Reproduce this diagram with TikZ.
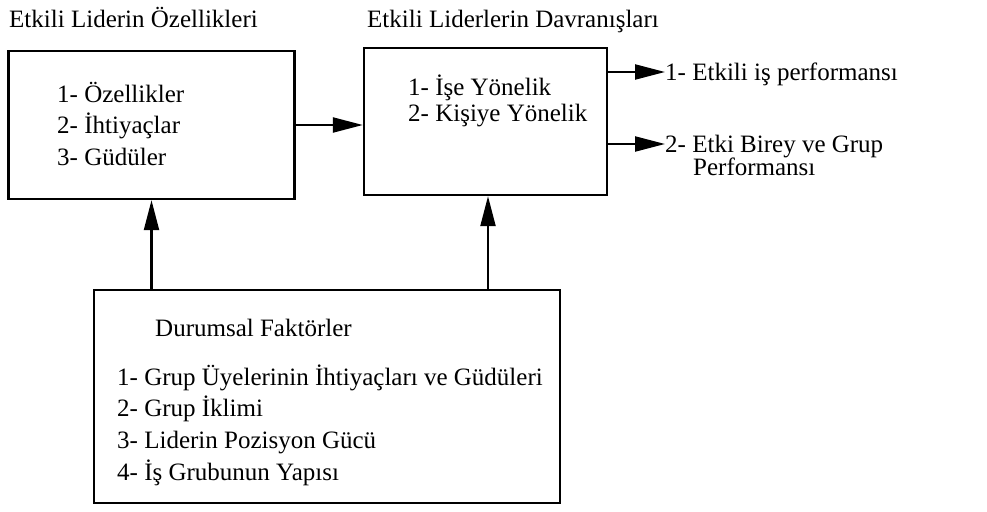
\documentclass[tikz,border=0pt]{standalone}
\usepackage{fontspec}
\setmainfont{Liberation Serif}
\usetikzlibrary{arrows.meta}

\begin{document}
\begin{tikzpicture}[x=1pt,y=-1pt,
  kutu/.style={draw,line width=2.4pt,inner sep=0pt},
  yazi/.style={anchor=base west,inner sep=0pt,font=\fontsize{25}{29}\selectfont},
  ok/.style={line width=2.2pt,-{Triangle[length=30pt,width=15pt]}}]
\useasboundingbox (0,0) rectangle (987,511);
%%% boxes %%%

  \node (B1) at (151.5,125) [kutu,minimum width=286pt,minimum height=148pt] {};
  \node (B2) at (485.5,121.5) [kutu,minimum width=243pt,minimum height=147pt] {};
  \node (B3) at (327,396.5) [kutu,minimum width=466pt,minimum height=213pt] {};

%%% titles and contents %%%
\node (T1) at (9,28) [yazi] {Etkili Liderin Özellikleri};
\node (T2) at (367,28) [yazi] {Etkili Liderlerin Davranışları};

\node (O1) at (57,102) [yazi] {1- Özellikler};
\node (O2) at (57,133) [yazi] {2- İhtiyaçlar};
\node (O3) at (57,165) [yazi] {3- Güdüler};

\node (D1) at (408,95) [yazi] {1- İşe Yönelik};
\node (D2) at (408,121) [yazi] {2- Kişiye Yönelik};

\node (R1) at (665,80) [yazi] {1- Etkili iş performansı};
\node (R2) at (665,152) [yazi] {2- Etki Birey ve Grup};
\node (R3) at (693,175) [yazi] {Performansı};

\node (F0) at (155,336) [yazi] {Durumsal Faktörler};
\node (F1) at (117,385) [yazi] {1- Grup Üyelerinin İhtiyaçları ve Güdüleri};
\node (F2) at (117,416) [yazi] {2- Grup İklimi};
\node (F3) at (117,448) [yazi] {3- Liderin Pozisyon Gücü};
\node (F4) at (117,480) [yazi] {4- İş Grubunun Yapısı};

\draw [ok] (B1.east) -- (B1.east -| B2.west);
\draw [ok] (B2.east |- 0,72) -- (R1.west |- 0,72);
\draw [ok] (B2.east |- 0,144) -- (R2.west |- 0,144);

\draw [ok] (B1.south |- B3.north) -- (B1.south);
\draw [ok] ([xshift=2.5pt]B2.south |- B3.north) -- ([xshift=2.5pt]B2.south);
\end{tikzpicture}
\end{document}
